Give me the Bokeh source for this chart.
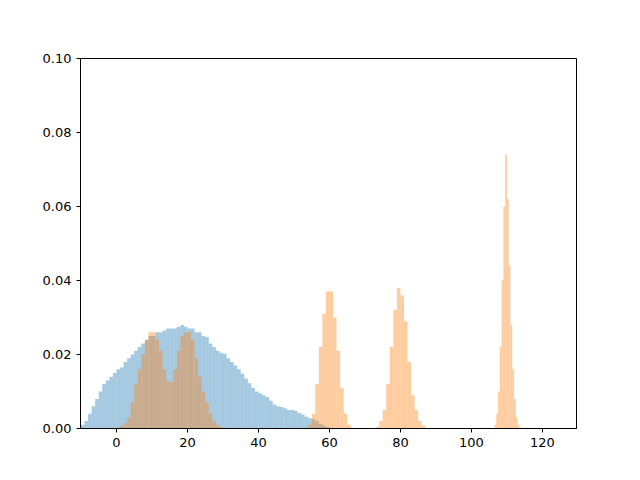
from bokeh.plotting import figure
from bokeh.models import Range1d, FixedTicker, NumeralTickFormatter
from bokeh.embed import file_html
from bokeh.resources import INLINE

# Blue series: density per 1-unit bin, first bin starts at -10
blue_start = -10.0
blue_width = 1.0
blue_density = [0.001, 0.002, 0.004, 0.006, 0.008, 0.010, 0.012, 0.013, 0.014, 0.015,
                0.016, 0.0165, 0.018, 0.019, 0.020, 0.021, 0.022, 0.023, 0.024, 0.025,
                0.025, 0.026, 0.026, 0.0265, 0.027, 0.027, 0.027, 0.0275, 0.028, 0.0275,
                0.027, 0.027, 0.026, 0.026, 0.025, 0.0247, 0.023, 0.022, 0.021, 0.0205,
                0.0202, 0.019, 0.018, 0.017, 0.016, 0.0148, 0.0135, 0.0122, 0.011, 0.010,
                0.0095, 0.009, 0.0085, 0.0075, 0.0065, 0.006, 0.0058, 0.0055, 0.005, 0.005,
                0.0048, 0.0042, 0.0038, 0.0032, 0.0028, 0.0025, 0.002, 0.0012, 0.0008, 0.0004,
                0.0002]

# Orange series: several segments of bins
orange_a_start, orange_a_width = 0.0, 1.0
orange_a = [0.0003, 0.0008, 0.0015, 0.003, 0.007, 0.012, 0.016, 0.020, 0.024, 0.026,
            0.026, 0.024, 0.021, 0.016, 0.013, 0.0125, 0.016, 0.021, 0.025, 0.026,
            0.026, 0.024, 0.019, 0.014, 0.010, 0.007, 0.004, 0.002, 0.001, 0.0004]
orange_b_start, orange_b_width = 54.0, 1.0
orange_b = [0.001, 0.004, 0.012, 0.022, 0.031, 0.037, 0.037, 0.030, 0.021, 0.011, 0.004, 0.001]
orange_c_start, orange_c_width = 73.0, 1.0
orange_c = [0.0005, 0.002, 0.005, 0.012, 0.022, 0.032, 0.038, 0.036, 0.029, 0.018,
            0.009, 0.005, 0.002, 0.0008]
orange_d_start, orange_d_width = 106.5, 0.5
orange_d = [0.001, 0.004, 0.010, 0.022, 0.040, 0.060, 0.074, 0.062, 0.044, 0.028,
            0.016, 0.008, 0.003, 0.001]

x_ticks = [0, 20, 40, 60, 80, 100, 120]
y_ticks = [0.0, 0.02, 0.04, 0.06, 0.08, 0.10]


def edges(start, width, vals):
    left = [start + i * width for i in range(len(vals))]
    right = [l + width for l in left]
    return left, right


p = figure(width=624, height=464, output_backend="svg", toolbar_location=None,
           x_range=Range1d(-10.14, 129.6), y_range=Range1d(0, 0.1),
           min_border_left=80, min_border_right=48, min_border_top=58, min_border_bottom=36)

bl, br = edges(blue_start, blue_width, blue_density)
p.quad(left=bl, right=br, bottom=0, top=blue_density, fill_color="#1f77b4",
       fill_alpha=0.4, line_color=None)

for st, w, vals in [(orange_a_start, orange_a_width, orange_a),
                    (orange_b_start, orange_b_width, orange_b),
                    (orange_c_start, orange_c_width, orange_c),
                    (orange_d_start, orange_d_width, orange_d)]:
    ol, orr = edges(st, w, vals)
    p.quad(left=ol, right=orr, bottom=0, top=vals, fill_color="#ff7f0e",
           fill_alpha=0.4, line_color=None)

p.xgrid.visible = False
p.ygrid.visible = False
p.outline_line_color = "black"
p.outline_line_alpha = 1.0
p.outline_line_width = 1

for ax in (p.xaxis[0], p.yaxis[0]):
    ax.major_tick_in = 0
    ax.major_tick_out = 4
    ax.minor_tick_line_color = None
    ax.axis_line_color = "black"
    ax.major_tick_line_color = "black"
    ax.major_label_text_font = "DejaVu Sans"
    ax.major_label_text_font_size = "13px"
    ax.major_label_text_color = "black"
    ax.major_label_standoff = 5

p.xaxis[0].ticker = FixedTicker(ticks=x_ticks)
p.yaxis[0].ticker = FixedTicker(ticks=y_ticks)
p.yaxis[0].formatter = NumeralTickFormatter(format="0.00")

open("out.html", "w").write(file_html(p, INLINE))
